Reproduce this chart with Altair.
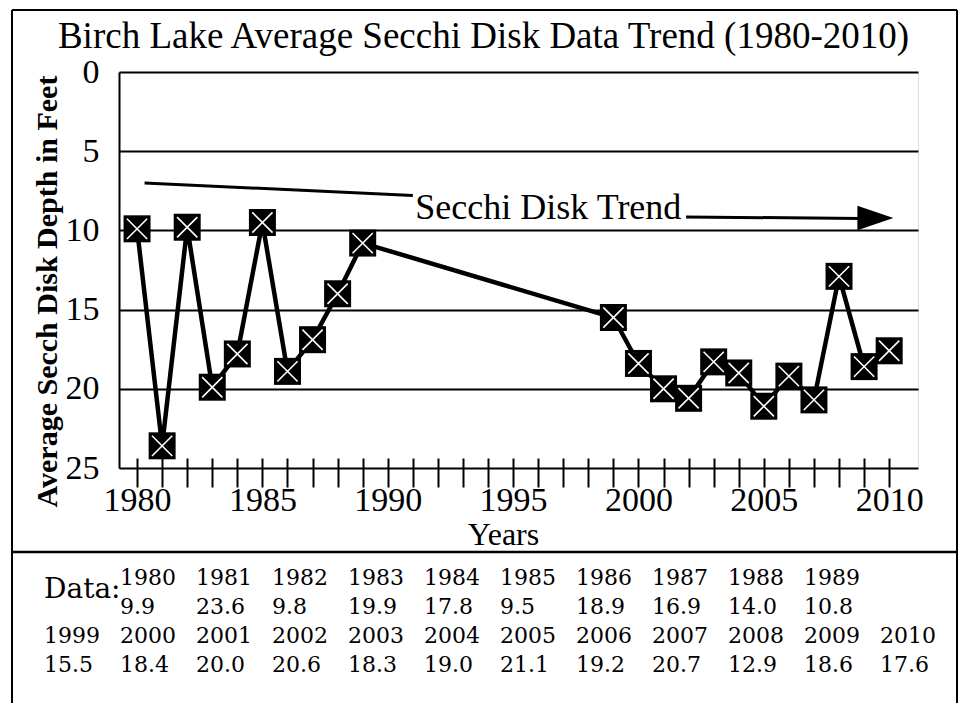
import altair as alt
import pandas as pd

# ---------------- data ----------------
YEARS = [1980, 1981, 1982, 1983, 1984, 1985, 1986, 1987, 1988, 1989,
         1999, 2000, 2001, 2002, 2003, 2004, 2005, 2006, 2007, 2008, 2009, 2010]
DEPTHS = [9.9, 23.6, 9.8, 19.9, 17.8, 9.5, 18.9, 16.9, 14.0, 10.8,
          15.5, 18.4, 20.0, 20.6, 18.3, 19.0, 21.1, 19.2, 20.7, 12.9, 18.6, 17.6]
Y_TICKS = [0, 5, 10, 15, 20, 25]
X_TICKS = [1980, 1981, 1982, 1983, 1984, 1985, 1986, 1987, 1988, 1989, 1990,
           1991, 1992, 1993, 1994, 1995, 1996, 1997, 1998, 1999, 2000,
           2001, 2002, 2003, 2004, 2005, 2006, 2007, 2008, 2009, 2010]

TITLE = "Birch Lake Average Secchi Disk Data Trend (1980-2010)"
Y_TITLE = "Average Secch Disk Depth in Feet"
X_TITLE = "Years"
TREND_LABEL = "Secchi Disk Trend"
TABLE_LABEL = "Data:"

# hand-drawn trend arrow (data units)
TREND_LEFT_X = [1980.3, 1991.0]
TREND_LEFT_Y = [7.0, 7.8]
TREND_RIGHT_X = [2001.9, 2008.9]
TREND_RIGHT_Y = [9.15, 9.25]
TREND_HEAD_X = [2009.45]
TREND_HEAD_Y = [9.22]
TREND_LABEL_X = [1991.1]
TREND_LABEL_Y = [9.28]

# ---------------- tables ----------------
df = pd.DataFrame({"year": YEARS, "depth": DEPTHS})
seg = pd.DataFrame({
    "year": TREND_LEFT_X + TREND_RIGHT_X,
    "depth": TREND_LEFT_Y + TREND_RIGHT_Y,
    "seg": ["a", "a", "b", "b"],
})
head = pd.DataFrame({"year": TREND_HEAD_X, "depth": TREND_HEAD_Y})
lab = pd.DataFrame({"year": TREND_LABEL_X, "depth": TREND_LABEL_Y, "t": [TREND_LABEL]})

rows = []
for i in range(10):
    rows.append({"col": i + 1, "row": 0, "t": str(YEARS[i])})
    rows.append({"col": i + 1, "row": 1, "t": f"{DEPTHS[i]:.1f}"})
for j in range(12):
    rows.append({"col": j, "row": 2, "t": str(YEARS[10 + j])})
    rows.append({"col": j, "row": 3, "t": f"{DEPTHS[10 + j]:.1f}"})
rows.append({"col": 0, "row": 0.4, "t": TABLE_LABEL})
tbl = pd.DataFrame(rows)

SERIF = "Liberation Serif"

xscale = alt.Scale(domain=[1979.28, 2011.15], nice=False, zero=False)
yscale = alt.Scale(domain=[0, 25], reverse=True, nice=False, zero=False)

xaxis = alt.Axis(
    values=X_TICKS, title=X_TITLE, format="d",
    labelExpr="datum.value % 5 === 0 ? datum.label : ''",
    labelFont=SERIF, labelFontSize=34, labelColor="black", labelFlush=False,
    labelOverlap=False, labelBaseline="alphabetic", labelPadding=23,
    domain=False, offset=-10, ticks=True, tickSize=29, tickWidth=2, tickColor="black",
    grid=False,
    titleFont=SERIF, titleFontSize=32, titleFontWeight="normal", titleColor="black",
    titleX=384, titleY=86, titleBaseline="alphabetic", titleAlign="center",
)
yaxis = alt.Axis(
    values=Y_TICKS, title=Y_TITLE,
    labelFont=SERIF, labelFontSize=34, labelColor="black", labelPadding=20,
    labelBaseline="middle", labelFlush=False,
    ticks=False, tickSize=0,
    domain=True, domainColor="black", domainWidth=2,
    grid=True, gridColor="black", gridWidth=2, gridOpacity=1,
    titleFont=SERIF, titleFontSize=30, titleFontWeight="bold", titleColor="black",
    titleAngle=-90, titleX=-72, titleY=219, titleBaseline="middle", titleAlign="center",
)

X = alt.X("year:Q", scale=xscale, axis=xaxis)
Y = alt.Y("depth:Q", scale=yscale, axis=yaxis)

one = alt.Data(values=[{}])

line = alt.Chart(df).mark_line(color="black", strokeWidth=4.5).encode(x=X, y=Y)
squares = alt.Chart(df).mark_point(
    shape="square", filled=True, color="black", size=729, opacity=1
).encode(x=X, y=Y)
crosses = alt.Chart(df).mark_point(
    shape="M-0.75,-0.75L0.75,0.75M-0.75,0.75L0.75,-0.75",
    filled=False, stroke="white", strokeWidth=1.6, size=729, opacity=1
).encode(x=X, y=Y)

trend = alt.Chart(seg).mark_line(color="black", strokeWidth=3).encode(x=X, y=Y, detail="seg:N")
arrow = alt.Chart(head).mark_point(
    shape="M-1,-0.68L1,0L-1,0.68Z", filled=True, color="black", size=1296, opacity=1
).encode(x=X, y=Y)
trend_text = alt.Chart(lab).mark_text(
    font=SERIF, fontSize=36, color="black", align="left", baseline="alphabetic"
).encode(x=X, y=Y, text="t:N")

# chart title (placed above the plot area, inside the outer frame)
title_text = alt.Chart(one).mark_text(
    font=SERIF, fontSize=37, color="black", align="center", baseline="alphabetic"
).encode(x=alt.value(364.5), y=alt.value(-24), text=alt.value(TITLE))

# frame around the whole figure and the divider above the data table
frame_top = alt.Chart(one).mark_rule(color="black", strokeWidth=2).encode(
    x=alt.value(-107), x2=alt.value(838), y=alt.value(-62))
frame_left = alt.Chart(one).mark_rule(color="black", strokeWidth=2).encode(
    x=alt.value(-107), y=alt.value(-62), y2=alt.value(650))
frame_right = alt.Chart(one).mark_rule(color="black", strokeWidth=2).encode(
    x=alt.value(838), y=alt.value(-62), y2=alt.value(650))
divider = alt.Chart(one).mark_rule(color="black", strokeWidth=2.5).encode(
    x=alt.value(-107), x2=alt.value(838), y=alt.value(480))

plot = alt.layer(frame_top, frame_left, frame_right, divider, title_text,
                 line, trend, arrow, trend_text, squares, crosses)

tx = alt.X("col:Q", scale=alt.Scale(domain=[0, 11], range=[-75, 761], nice=False, zero=False), axis=None)
ty = alt.Y("row:Q", scale=alt.Scale(domain=[0, 3], range=[506, 593], nice=False, zero=False), axis=None)

table_main = alt.Chart(tbl).transform_filter("datum.t != 'Data:'").mark_text(
    font="DejaVu Serif", fontSize=22, color="black", align="left", baseline="middle"
).encode(x=tx, y=ty, text="t:N")
table_label = alt.Chart(tbl).transform_filter("datum.t == 'Data:'").mark_text(
    font="DejaVu Serif", fontSize=28, color="black", align="left", baseline="middle"
).encode(x=tx, y=ty, text="t:N")
table = alt.layer(table_main, table_label)

chart = alt.layer(plot, table).resolve_scale(x="independent", y="independent").properties(
    width=799, height=396,
    padding={"left": 111, "top": 64, "right": 40, "bottom": 235},
    autosize=alt.AutoSizeParams(type="none"),
).configure_view(stroke=None).configure(background="white")

chart.save("out.html", embed_options={"renderer": "svg", "actions": False})
